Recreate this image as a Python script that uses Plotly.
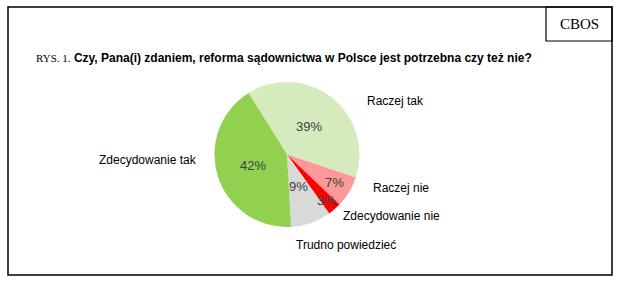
import math
import plotly.graph_objects as go

categories = ["Raczej tak", "Raczej nie", "Zdecydowanie nie", "Trudno powiedzieć", "Zdecydowanie tak"]
values = [39, 7, 3, 9, 42]
colors = ["#D5EBBE", "#FF9999", "#FF0000", "#D9D9D9", "#92D050"]
# radial position of each percentage label, as a fraction of the radius (style)
label_radius = [0.49, 0.76, 0.84, 0.47, 0.49]

W, H = 622, 285

def px(x):
    return x / W

def py(y):
    return 1 - y / H

cx, cy, r = 287, 154.5, 72.5
start_angle = -32  # degrees, clockwise from 12 o'clock

fig = go.Figure(go.Pie(
    labels=categories,
    values=values,
    sort=False,
    direction="clockwise",
    rotation=start_angle,
    marker=dict(colors=colors, line=dict(width=0)),
    textinfo="none",
    showlegend=False,
    hoverinfo="label+percent",
    domain=dict(x=[px(cx - r), px(cx + r)], y=[py(cy + r), py(cy - r)]),
))

annotations = []

# percentage labels placed inside slices, derived from the values
total = sum(values)
acc = 0
for v, f in zip(values, label_radius):
    mid = start_angle + (acc + v / 2) / total * 360
    acc += v
    a = math.radians(mid)
    x = cx + f * r * math.sin(a)
    y = cy - f * r * math.cos(a)
    annotations.append(dict(
        x=px(x), y=py(y), xref="paper", yref="paper", showarrow=False,
        xanchor="center", yanchor="middle", text=f"{round(v / total * 100)}%",
        font=dict(family="Liberation Sans, Arial", size=13, color="#404040"),
    ))

label_pos = {
    "Raczej tak": (395, 101),
    "Zdecydowanie tak": (148, 160),
    "Raczej nie": (401, 188),
    "Zdecydowanie nie": (391, 216),
    "Trudno powiedzieć": (346, 245),
}
for name, (x, y) in label_pos.items():
    annotations.append(dict(
        x=px(x), y=py(y), xref="paper", yref="paper", text=name, showarrow=False,
        xanchor="center", yanchor="middle",
        font=dict(family="Liberation Sans, Arial", size=12, color="#000000"),
    ))

annotations.append(dict(
    x=px(34), y=py(58), xref="paper", yref="paper", showarrow=False,
    xanchor="left", yanchor="middle",
    text="<span style='font-family:Liberation Serif;font-size:11px'>RYS. 1.</span> <b>Czy, Pana(i) zdaniem, reforma sądownictwa w Polsce jest potrzebna czy też nie?</b>",
    font=dict(family="Liberation Sans, Arial", size=12, color="#000000"),
))
annotations.append(dict(
    x=px(579), y=py(24), xref="paper", yref="paper", showarrow=False,
    xanchor="center", yanchor="middle", text="CBOS",
    font=dict(family="Liberation Serif, Times New Roman", size=15, color="#000000"),
))

shapes = [
    dict(type="rect", xref="paper", yref="paper", x0=px(8), x1=px(612), y0=py(275), y1=py(7),
         line=dict(color="black", width=1.5)),
    dict(type="rect", xref="paper", yref="paper", x0=px(546), x1=px(612), y0=py(41), y1=py(7),
         line=dict(color="black", width=1.2)),
]

fig.update_layout(
    width=W, height=H,
    margin=dict(l=0, r=0, t=0, b=0),
    paper_bgcolor="white", plot_bgcolor="white",
    annotations=annotations, shapes=shapes,
)

fig.write_html("out.html")
